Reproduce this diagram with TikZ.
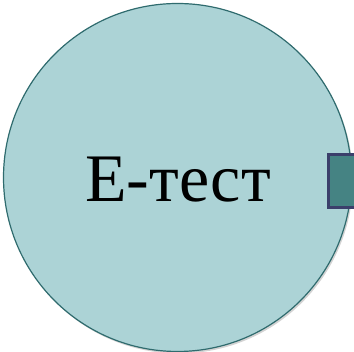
\documentclass[tikz,border=0pt]{standalone}
\usepackage{fontspec}
\setmainfont{Liberation Serif}
\usetikzlibrary{shadows}
\definecolor{circfill}{HTML}{ACD3D6}
\definecolor{circline}{HTML}{2F6B6E}
\definecolor{boxfill}{HTML}{458383}
\definecolor{boxline}{HTML}{3B3F6B}
\tikzset{
  bigcircle/.style={circle, draw=circline, line width=1.2pt, fill=circfill, minimum size=348pt, inner sep=0pt,
    drop shadow={shadow xshift=1.5pt, shadow yshift=-2pt, opacity=0.35}},
  tabbox/.style={draw=boxline, line width=3pt, fill=boxfill}
}
\begin{document}
\begin{tikzpicture}[x=1pt,y=1pt]
\useasboundingbox (0,0) rectangle (354,352);
\clip (0,0) rectangle (354,352);
\node[bigcircle] (c) at (177.5,174.5) {};
\node[font=\fontsize{68}{70}\selectfont] (t) at (178,172) {Е-тест};
\draw[tabbox] (328.5,144.5) rectangle (358,197);
\end{tikzpicture}
\end{document}
